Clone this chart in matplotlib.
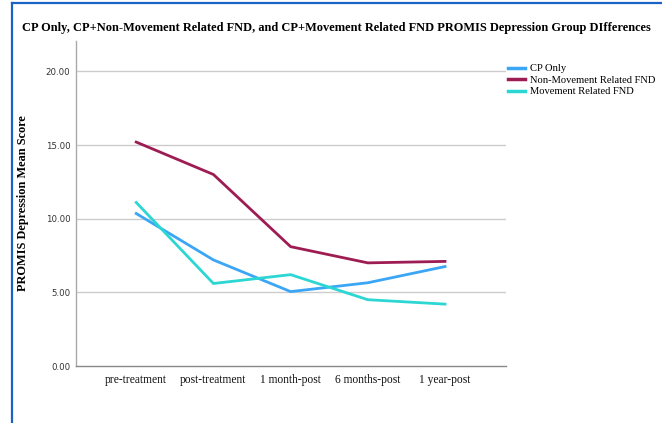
import matplotlib
matplotlib.use("Agg")
import matplotlib.pyplot as plt
from matplotlib.lines import Line2D

timepoints = ["pre-treatment", "post-treatment", "1 month-post", "6 months-post", "1 year-post"]
cp_only = [10.35, 7.2, 5.05, 5.65, 6.75]
non_movement_fnd = [15.2, 13.0, 8.1, 7.0, 7.1]
movement_fnd = [11.1, 5.6, 6.2, 4.5, 4.2]
y_ticks = [0, 5, 10, 15, 20]

serif = "Liberation Serif"

fig = plt.figure(figsize=(6.62, 4.23), dpi=100)
ax = fig.add_axes([76 / 662, 1 - 366 / 423, 430 / 662, 325 / 423])

x = list(range(len(timepoints)))
ax.plot(x, cp_only, color="#3aa6f5", lw=2.0, label="CP Only")
ax.plot(x, non_movement_fnd, color="#9e1c54", lw=2.0, label="Non-Movement Related FND")
ax.plot(x, movement_fnd, color="#2cd6d3", lw=2.0, label="Movement Related FND")

ax.set_xlim(-0.78, 4.79)
ax.set_ylim(0, 22.06)
ax.set_yticks(y_ticks)
ax.set_yticklabels([f"{v:.2f}" for v in y_ticks], fontsize=6.2, color="#333333")
ax.set_xticks(x)
ax.set_xticklabels(timepoints, fontfamily=serif, fontsize=8.3, color="#111111")
ax.tick_params(length=0, pad=4)
ax.tick_params(axis="x", pad=6)

for v in y_ticks[1:]:
    ax.axhline(v, color="#cccccc", lw=1.0, zorder=0)

for side in ["top", "right"]:
    ax.spines[side].set_visible(False)
ax.spines["left"].set_color("#aaaaaa")
ax.spines["bottom"].set_color("#888888")
ax.spines["left"].set_linewidth(1.0)
ax.spines["bottom"].set_linewidth(1.0)

ax.set_ylabel("PROMIS Depression Mean Score", fontfamily=serif, fontweight="bold",
              fontsize=8.8, labelpad=12)

fig.text(22 / 662, 1 - 28 / 423,
         "CP Only, CP+Non-Movement Related FND, and CP+Movement Related FND PROMIS Depression Group DIfferences",
         fontfamily=serif, fontweight="bold", fontsize=8.95, va="center", ha="left")

leg = ax.legend(loc="upper left", bbox_to_anchor=(508 / 662, 1 - 64 / 423),
                bbox_transform=fig.transFigure, frameon=False,
                prop={"family": serif, "size": 7.6}, handlelength=1.6,
                handletextpad=0.45, labelspacing=0.2, borderaxespad=0, borderpad=0)
for h in leg.get_lines():
    h.set_linewidth(2.5)

# blue frame from the screenshot
fig.add_artist(Line2D([12 / 662, 12 / 662], [0, 1 - 3 / 423], color="#1a62c4", lw=1.6))
fig.add_artist(Line2D([12 / 662, 1], [1 - 3 / 423, 1 - 3 / 423], color="#1a62c4", lw=1.6))

fig.savefig("out.png", dpi=100)
